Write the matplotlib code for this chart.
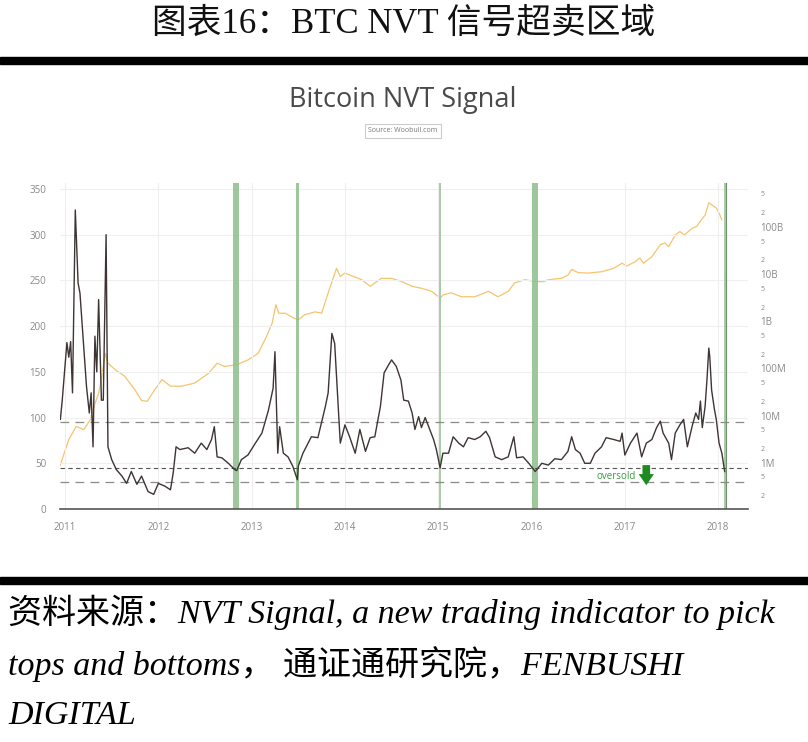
import matplotlib.pyplot as plt
from matplotlib.patches import Rectangle
from matplotlib.ticker import FixedLocator, NullLocator

# NVT signal (decimal year, value)
nvt_t = [2010.95, 2010.97, 2011.02, 2011.04, 2011.06, 2011.08, 2011.11, 2011.14, 2011.16, 2011.20,
         2011.23, 2011.26, 2011.28, 2011.30, 2011.32, 2011.34, 2011.36, 2011.39, 2011.41, 2011.44,
         2011.46, 2011.50, 2011.55, 2011.61, 2011.66, 2011.71, 2011.77, 2011.82, 2011.89, 2011.95,
         2012.00, 2012.07, 2012.13, 2012.16, 2012.19, 2012.23, 2012.32, 2012.39, 2012.46, 2012.52,
         2012.57, 2012.60, 2012.63, 2012.68, 2012.75, 2012.82, 2012.84, 2012.89, 2012.96, 2013.04,
         2013.11, 2013.18, 2013.23, 2013.25, 2013.28, 2013.30, 2013.34, 2013.39, 2013.44, 2013.49,
         2013.50, 2013.55, 2013.64, 2013.71, 2013.79, 2013.82, 2013.86, 2013.89, 2013.92, 2013.95,
         2014.00, 2014.05, 2014.11, 2014.16, 2014.22, 2014.27, 2014.32, 2014.38, 2014.42, 2014.47,
         2014.50, 2014.55, 2014.60, 2014.63, 2014.68, 2014.72, 2014.75, 2014.79, 2014.82, 2014.86,
         2014.89, 2014.95, 2014.98, 2015.02, 2015.05, 2015.11, 2015.16, 2015.22, 2015.27, 2015.32,
         2015.39, 2015.45, 2015.51, 2015.55, 2015.61, 2015.68, 2015.75, 2015.81, 2015.84, 2015.91,
         2015.97, 2016.04, 2016.11, 2016.18, 2016.25, 2016.32, 2016.39, 2016.43, 2016.47, 2016.52,
         2016.57, 2016.63, 2016.68, 2016.75, 2016.80, 2016.88, 2016.95, 2016.97, 2017.00, 2017.06,
         2017.13, 2017.18, 2017.23, 2017.29, 2017.34, 2017.38, 2017.41, 2017.47, 2017.50, 2017.54,
         2017.59, 2017.63, 2017.67, 2017.72, 2017.76, 2017.79, 2017.81, 2017.83, 2017.86, 2017.88,
         2017.90, 2017.91, 2017.93, 2017.96, 2017.98, 2018.01, 2018.04, 2018.07]
nvt_v = [98, 119, 182, 166, 183, 127, 327, 247, 236, 178,
         134, 105, 127, 68, 189, 150, 229, 119, 119, 300,
         68, 54, 43, 36, 28, 41, 27, 36, 19, 16,
         28, 25, 21, 40, 68, 65, 67, 61, 72, 65,
         76, 90, 57, 56, 50, 43, 42, 54, 59, 72,
         83, 108, 132, 172, 61, 90, 61, 57, 47, 32,
         47, 61, 79, 78, 112, 127, 192, 181, 127, 72,
         92, 79, 61, 87, 63, 78, 79, 112, 149, 158,
         163, 156, 141, 119, 118, 105, 87, 101, 89, 100,
         92, 76, 65, 45, 61, 61, 79, 72, 68, 78,
         76, 79, 85, 78, 57, 54, 57, 79, 56, 57,
         50, 41, 50, 48, 55, 54, 63, 79, 65, 61,
         50, 50, 61, 68, 78, 76, 74, 83, 59, 72,
         83, 57, 72, 76, 89, 96, 83, 72, 54, 83,
         92, 98, 68, 90, 105, 98, 118, 89, 112, 141,
         176, 167, 130, 109, 98, 72, 61, 41]

# market cap in USD (decimal year, value)
cap_t = [2010.95, 2011.04, 2011.12, 2011.20, 2011.27, 2011.31, 2011.36, 2011.39, 2011.43, 2011.46,
         2011.54, 2011.64, 2011.75, 2011.82, 2011.88, 2011.96, 2012.04, 2012.13, 2012.25, 2012.39,
         2012.54, 2012.63, 2012.71, 2012.84, 2012.96, 2013.07, 2013.16, 2013.22, 2013.26, 2013.29,
         2013.36, 2013.45, 2013.50, 2013.57, 2013.68, 2013.75, 2013.82, 2013.88, 2013.91, 2013.95,
         2014.00, 2014.09, 2014.18, 2014.27, 2014.39, 2014.50, 2014.61, 2014.72, 2014.82, 2014.93,
         2015.02, 2015.05, 2015.14, 2015.25, 2015.39, 2015.54, 2015.64, 2015.75, 2015.82, 2015.93,
         2016.04, 2016.13, 2016.18, 2016.32, 2016.39, 2016.43, 2016.50, 2016.61, 2016.75, 2016.88,
         2016.97, 2017.02, 2017.11, 2017.16, 2017.20, 2017.29, 2017.38, 2017.43, 2017.47, 2017.54,
         2017.59, 2017.64, 2017.72, 2017.77, 2017.82, 2017.86, 2017.90, 2017.93, 2017.98, 2018.01,
         2018.04]
cap_v = [0.91e6, 3.1e6, 5.9e6, 5.0e6, 8.1e6, 15.5e6, 30e6, 58e6, 209e6, 129e6,
         93e6, 68e6, 35e6, 21e6, 20e6, 35e6, 58e6, 42e6, 42e6, 49e6,
         79e6, 129e6, 110e6, 120e6, 151e6, 209e6, 479e6, 912e6, 2.24e9, 1.48e9,
         1.48e9, 1.17e9, 1.07e9, 1.38e9, 1.58e9, 1.48e9, 3.98e9, 8.9e9, 13.2e9, 8.9e9,
         10.5e9, 8.9e9, 7.6e9, 5.5e9, 8.1e9, 8.1e9, 6.9e9, 5.5e9, 5.0e9, 4.3e9,
         3.1e9, 3.6e9, 4.0e9, 3.3e9, 3.3e9, 4.3e9, 3.3e9, 4.3e9, 6.5e9, 7.6e9,
         6.9e9, 6.9e9, 7.6e9, 8.1e9, 9.5e9, 12.6e9, 10.7e9, 10.5e9, 11.2e9, 13.2e9,
         17e9, 14.8e9, 18.2e9, 21.9e9, 17e9, 23.4e9, 41.7e9, 45.7e9, 38e9, 67.6e9,
         79.4e9, 67.6e9, 93e9, 102e9, 141e9, 178e9, 324e9, 295e9, 251e9, 195e9,
         141e9]

# oversold periods (start, end)
band_start = [2012.805, 2013.472, 2015.012, 2016.010, 2018.063]
band_end = [2012.868, 2013.508, 2015.032, 2016.071, 2018.080]

levels_light = [95, 30]
level_oversold = 45

year_ticks = [2011, 2012, 2013, 2014, 2015, 2016, 2017, 2018]
left_ticks = [0, 50, 100, 150, 200, 250, 300, 350]
right_ticks = [2e5, 5e5, 1e6, 2e6, 5e6, 1e7, 2e7, 5e7, 1e8, 2e8, 5e8,
               1e9, 2e9, 5e9, 1e10, 2e10, 5e10, 1e11, 2e11, 5e11]
right_labels = ["2", "5", "1M", "2", "5", "10M", "2", "5", "100M", "2", "5",
                "1B", "2", "5", "10B", "2", "5", "100B", "2", "5"]

W, H = 808, 742
fig = plt.figure(figsize=(W / 100, H / 100), dpi=100)
fig.patch.set_facecolor("white")

# report frame
fig.text(0.5, 1 - 24 / H, "图表16：BTC NVT 信号超卖区域",
         ha="center", va="center", fontsize=25, color="#111111",
         family=["Liberation Serif", "Noto Sans CJK SC"])
fig.patches.append(Rectangle((0, 1 - 64 / H), 1, 7 / H, transform=fig.transFigure,
                             color="black", zorder=5))
fig.patches.append(Rectangle((0, 1 - 584 / H), 1, 7 / H, transform=fig.transFigure,
                             color="black", zorder=5))

src_font = ["Liberation Serif", "Noto Sans CJK SC"]
fig.text(8 / W, 1 - 612 / H, "资料来源：NVT Signal, a new trading indicator to pick",
         ha="left", va="center", fontsize=24.5, style="italic", family=src_font)
fig.text(8 / W, 1 - 664 / H, "tops and bottoms， 通证通研究院，FENBUSHI",
         ha="left", va="center", fontsize=24.5, style="italic", family=src_font)
fig.text(8 / W, 1 - 716 / H, "DIGITAL",
         ha="left", va="center", fontsize=24.5, style="italic", family=src_font)

# inner chart title
fig.text(403 / W, 1 - 100 / H, "Bitcoin NVT Signal", ha="center", va="center",
         fontsize=19.5, color="#4a4a4a", family="Open Sans")
fig.text(403 / W, 1 - 131 / H, "Source: Woobull.com", ha="center", va="center",
         fontsize=5, color="#777777", family="Open Sans",
         bbox=dict(boxstyle="square,pad=0.5", fc="white", ec="#cccccc", lw=0.8))

ax = fig.add_axes([60 / W, 1 - 509 / H, 688 / W, 326 / H])
ax2 = ax.twinx()
ax.set_zorder(ax2.get_zorder() + 1)
ax.patch.set_visible(False)

# market cap (log, right axis)
ax2.plot(cap_t, cap_v, color="#f5c46e", lw=0.9)
ax2.set_yscale("log")
ax2.set_ylim(10 ** 5.02, 10 ** 11.93)
ax2.yaxis.set_major_locator(FixedLocator(right_ticks))
ax2.yaxis.set_minor_locator(NullLocator())
ax2.set_yticks(right_ticks)
ax2.set_yticklabels(right_labels)
for lab in ax2.get_yticklabels():
    big = len(lab.get_text()) > 1
    lab.set_fontsize(7 if big else 5)
    lab.set_color("#888888")
    lab.set_family("Open Sans")
ax2.tick_params(axis="y", length=0, pad=9)
for s in ax2.spines.values():
    s.set_visible(False)

# NVT (linear, left axis)
ax.set_xlim(2010.946, 2018.32)
ax.set_ylim(0, 356.5)
for a, b in zip(band_start, band_end):
    thin = (b - a) < 0.03
    ax.axvspan(a, b, color="#8dbf8a" if not thin else "#9cc49a", alpha=0.85, lw=0, zorder=1)
ax.axvline(band_end[-1], color="#6f8f6c", lw=0.8, zorder=1)

for lv in levels_light:
    ax.axhline(lv, color="#8a8a8a", lw=0.9, dashes=(7, 5), zorder=2)
ax.axhline(level_oversold, color="#555555", lw=0.8, dashes=(4, 3), zorder=2)

ax.plot(nvt_t, nvt_v, color="#3e3434", lw=1.0, zorder=3)

ax.text(2016.91, 36, "oversold", color="#3a9a3a", fontsize=7,
        family="Open Sans", ha="center", va="center")
ax.annotate("", xy=(2017.23, 26), xytext=(2017.23, 48),
            arrowprops=dict(arrowstyle="simple,head_width=1.1,head_length=0.8,tail_width=0.55",
                            color="#1f8a22", lw=0, mutation_scale=10,
                            shrinkA=0, shrinkB=0))

ax.set_xticks(year_ticks)
ax.set_xticklabels([str(y) for y in year_ticks])
ax.set_yticks(left_ticks)
ax.grid(True, color="#efefef", lw=0.8, zorder=0)
ax.set_axisbelow(True)
ax.tick_params(length=0, labelsize=7, labelcolor="#888888")
ax.tick_params(axis="y", pad=10)
ax.tick_params(axis="x", pad=9)
for lab in ax.get_xticklabels() + ax.get_yticklabels():
    lab.set_family("Open Sans")
for name in ["top", "right", "left"]:
    ax.spines[name].set_visible(False)
ax.spines["bottom"].set_color("#555555")
ax.spines["bottom"].set_linewidth(1.2)

fig.savefig("out.png", dpi=100)
